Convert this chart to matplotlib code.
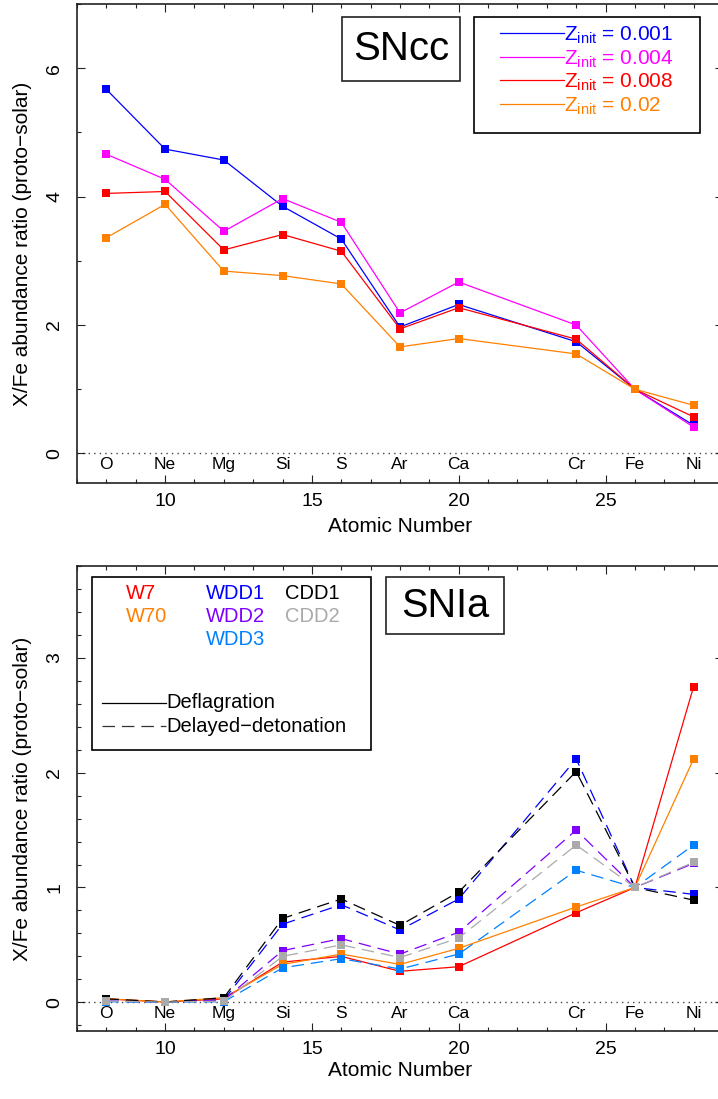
import matplotlib
matplotlib.use("Agg")
import matplotlib.pyplot as plt
from matplotlib.patches import Rectangle
from matplotlib.ticker import MultipleLocator

plt.rcParams['font.family'] = ['Liberation Sans', 'DejaVu Sans']
plt.rcParams['mathtext.fontset'] = 'custom'
plt.rcParams['mathtext.rm'] = 'Liberation Sans'
plt.rcParams['mathtext.it'] = 'Liberation Sans'
plt.rcParams['lines.scale_dashes'] = False

# ---------------- data ----------------
Z = [8, 10, 12, 14, 16, 18, 20, 24, 26, 28]
elements = ["O", "Ne", "Mg", "Si", "S", "Ar", "Ca", "Cr", "Fe", "Ni"]

# SNcc yields (X/Fe, proto-solar)
sncc_labels = ["0.001", "0.004", "0.008", "0.02"]
sncc_colors = ["#0000FF", "#FF00FF", "#FF0000", "#FF8000"]
sncc_z001 = [5.67, 4.74, 4.57, 3.85, 3.34, 1.97, 2.32, 1.74, 1.0, 0.44]
sncc_z004 = [4.66, 4.27, 3.46, 3.97, 3.60, 2.19, 2.67, 2.00, 1.0, 0.41]
sncc_z008 = [4.05, 4.08, 3.17, 3.41, 3.15, 1.94, 2.27, 1.78, 1.0, 0.57]
sncc_z02 = [3.36, 3.88, 2.84, 2.77, 2.64, 1.66, 1.79, 1.55, 1.0, 0.75]
sncc_series = [sncc_z001, sncc_z004, sncc_z008, sncc_z02]

# SNIa yields
snia_names = ["W7", "W70", "WDD1", "WDD2", "WDD3", "CDD1", "CDD2"]
snia_colors = ["#FF0000", "#FF8000", "#0000FF", "#8000FF", "#0080FF", "#000000", "#AAAAAA"]
snia_styles = ["solid", "solid", "dashed", "dashed", "dashed", "dashed", "dashed"]
w7 = [0.03, 0.003, 0.03, 0.35, 0.40, 0.27, 0.31, 0.78, 1.0, 2.75]
w70 = [0.03, 0.003, 0.04, 0.33, 0.42, 0.33, 0.47, 0.83, 1.0, 2.12]
wdd1 = [0.01, 0.002, 0.02, 0.68, 0.85, 0.63, 0.90, 2.12, 1.0, 0.94]
wdd2 = [0.01, 0.002, 0.02, 0.45, 0.555, 0.42, 0.61, 1.50, 1.0, 1.21]
wdd3 = [0.005, 0.001, 0.005, 0.30, 0.38, 0.29, 0.42, 1.15, 1.0, 1.37]
cdd1 = [0.03, 0.003, 0.04, 0.73, 0.90, 0.67, 0.96, 2.01, 1.0, 0.89]
cdd2 = [0.01, 0.002, 0.01, 0.40, 0.50, 0.39, 0.56, 1.37, 1.0, 1.22]
snia_series = [w7, w70, wdd1, wdd2, wdd3, cdd1, cdd2]

# ---------------- figure ----------------
W, H = 718, 1099
fig = plt.figure(figsize=(W / 100, H / 100), dpi=100)

def axes_px(left, top, right, bottom):
    return fig.add_axes([left / W, 1 - bottom / H, (right - left) / W, (bottom - top) / H])

ax1 = axes_px(77, 4, 723, 483)
ax2 = axes_px(77, 566, 723, 1031)

TICK_FS = 14
LABEL_FS = 15
ELEM_FS = 12.5
DASH = (9, 5)


def style_axes(ax, ylim, ymajor, yminor, ylabel_x, xlabel_y):
    ax.set_xlim(7, 29)
    ax.set_ylim(*ylim)
    ax.xaxis.set_major_locator(MultipleLocator(5))
    ax.xaxis.set_minor_locator(MultipleLocator(1))
    ax.yaxis.set_major_locator(MultipleLocator(ymajor))
    ax.yaxis.set_minor_locator(MultipleLocator(yminor))
    for sp in ax.spines.values():
        sp.set_linewidth(1.2)
        sp.set_color("#222222")
    ax.tick_params(which='both', direction='in', top=True, right=True,
                   width=0.8, colors="#222222", labelcolor='black')
    ax.tick_params(which='major', length=6, labelsize=TICK_FS)
    ax.tick_params(which='minor', length=3.2, right=False)
    ax.tick_params(axis='x', pad=7)
    ax.tick_params(axis='y', pad=10, labelrotation=90)
    for lab in ax.get_yticklabels():
        lab.set_va('center')
    ax.axhline(0, color="#444444", lw=1.0, ls=(0, (1, 3)), zorder=1)
    for z, el in zip(Z, elements):
        ax.annotate(el, xy=(z, 0), xytext=(0, -8.3), textcoords='offset points',
                    ha='center', va='center', fontsize=ELEM_FS)
    ax.set_xlabel("Atomic Number", fontsize=LABEL_FS)
    ax.set_ylabel("X/Fe abundance ratio (proto\u2212solar)", fontsize=LABEL_FS)
    ax.yaxis.set_label_coords(ylabel_x, 0.5)
    ax.xaxis.set_label_coords(0.5, xlabel_y)


style_axes(ax1, (-0.46, 7.0), 2, 1, -0.070, -0.072)
style_axes(ax2, (-0.25, 3.8), 1, 0.2, -0.070, -0.064)

# ---- top panel: SNcc ----
for vals, col in zip(sncc_series, sncc_colors):
    ax1.plot(Z, vals, color=col, lw=0.9, marker='s', ms=5.6, mew=0, zorder=3)

ax1.add_patch(Rectangle((0.4097, 0.8392), 0.5929 - 0.4097, 0.9735 - 0.8392,
                        transform=ax1.transAxes, fill=True, facecolor='white',
                        edgecolor='#222222', lw=1.2, zorder=4))
ax1.text(0.5013, 0.906, "SNcc", transform=ax1.transAxes, ha='center', va='center',
         fontsize=29, zorder=5)

ax1.add_patch(Rectangle((0.6146, 0.7313), 0.9649 - 0.6146, 0.9735 - 0.7313,
                        transform=ax1.transAxes, fill=True, facecolor='white',
                        edgecolor='black', lw=1.2, zorder=4))
row_y = [0.9395, 0.8894, 0.8413, 0.7912]
for lab, col, yy in zip(sncc_labels, sncc_colors, row_y):
    ax1.plot([0.6548, 0.7539], [yy, yy], transform=ax1.transAxes, color=col, lw=0.9, zorder=5)
    ax1.text(0.7539, yy - 0.016, r"Z$_{\mathrm{init}}$ = " + lab, transform=ax1.transAxes,
             ha='left', va='baseline', fontsize=15, color=col, zorder=5)

# ---- bottom panel: SNIa ----
for vals, col, lsty in zip(snia_series, snia_colors, snia_styles):
    if lsty == "dashed":
        ax2.plot(Z, vals, color=col, lw=0.9, ls=(0, DASH), marker='s', ms=5.6, mew=0, zorder=3)
    else:
        ax2.plot(Z, vals, color=col, lw=0.9, marker='s', ms=5.6, mew=0, zorder=3)

ax2.add_patch(Rectangle((0.4783, 0.8538), 0.661 - 0.4783, 0.9763 - 0.8538,
                        transform=ax2.transAxes, fill=True, facecolor='white',
                        edgecolor='#222222', lw=1.2, zorder=4))
ax2.text(0.5697, 0.915, "SNIa", transform=ax2.transAxes, ha='center', va='center',
         fontsize=28.5, zorder=5)

ax2.add_patch(Rectangle((0.0237, 0.6043), 0.4551 - 0.0237, 0.9763 - 0.6043,
                        transform=ax2.transAxes, fill=True, facecolor='white',
                        edgecolor='black', lw=1.2, zorder=4))
leg_x = [0.0759, 0.0759, 0.1997, 0.1997, 0.1997, 0.3224, 0.3224]
leg_y = [0.9419, 0.891, 0.9419, 0.891, 0.8424, 0.9419, 0.891]
for name, col, xx, yy in zip(snia_names, snia_colors, leg_x, leg_y):
    ax2.text(xx, yy, name, transform=ax2.transAxes, ha='left', va='center',
             fontsize=14.5, color=col, zorder=5)

ax2.plot([0.0382, 0.1378], [0.7054, 0.7054], transform=ax2.transAxes,
         color='black', lw=0.9, zorder=5)
ax2.text(0.1378, 0.7054, "Deflagration", transform=ax2.transAxes, ha='left', va='center',
         fontsize=14.5, zorder=5)
ax2.plot([0.0382, 0.1378], [0.6559, 0.6559], transform=ax2.transAxes,
         color='#333333', lw=0.9, ls=(0, DASH), zorder=5)
ax2.text(0.1378, 0.6559, "Delayed\u2212detonation", transform=ax2.transAxes, ha='left',
         va='center', fontsize=14.5, zorder=5)

fig.savefig("out.png", dpi=100)
